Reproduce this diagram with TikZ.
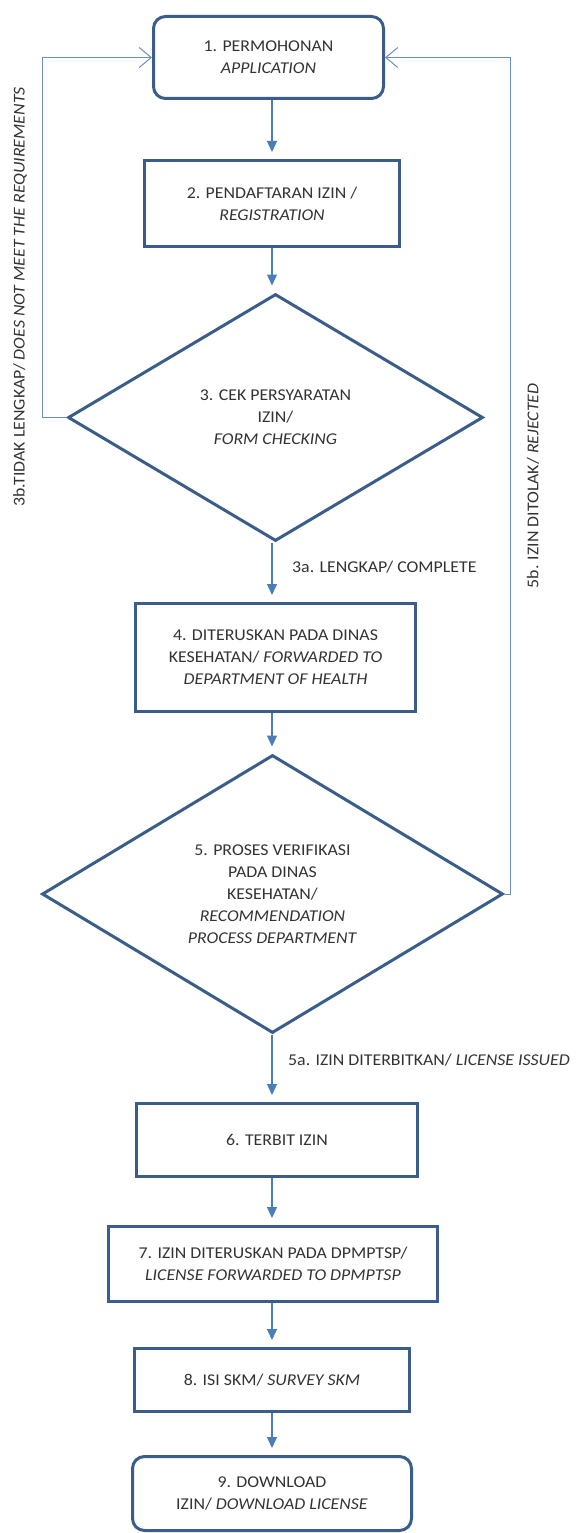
\documentclass[tikz,border=0pt]{standalone}
\usepackage{fontspec}
\setmainfont{Carlito}[FakeStretch=1.08]
\usetikzlibrary{shapes.geometric,arrows.meta}
\definecolor{boxblue}{HTML}{3A5D8A}
\definecolor{arrblue}{HTML}{4A7EBB}
\definecolor{fbblue}{HTML}{6B8FC0}
\definecolor{txt}{HTML}{333333}
\begin{document}
\begin{tikzpicture}[x=1pt,y=-1pt,
  every node/.style={font=\fontsize{16.5}{22}\selectfont, text=txt},
  procbox/.style={draw=boxblue, line width=3pt, align=center, inner sep=0pt},
  termbox/.style={procbox, rounded corners=12pt},
  decision/.style={draw=boxblue, line width=3pt, diamond, align=center, inner sep=0pt},
  flow/.style={draw=arrblue, line width=1.3pt, -{Triangle[width=10pt,length=11pt]}, shorten >=7pt},
  feedback/.style={draw=fbblue, line width=1pt, -{Straight Barb[length=12pt,width=20pt]}},
  lbl/.style={inner sep=0pt}
]
\useasboundingbox (0,0) rectangle (576,1533);
\fill[white] (0,0) rectangle (576,1533);
\coordinate (ax) at (272,0);

\node[termbox, minimum width=230, minimum height=82] (b1) at (268.5,57.5) {1. PERMOHONAN\\\textit{APPLICATION}};
\node[procbox, minimum width=255, minimum height=86] (b2) at (272,203.5) {2. PENDAFTARAN IZIN /\\\textit{REGISTRATION}};
\node[decision, minimum width=415, minimum height=247] (d3) at (275.5,417.5) {3. CEK PERSYARATAN\\IZIN/\\\textit{FORM CHECKING}};
\node[procbox, minimum width=280, minimum height=108] (b4) at (275.5,657.5) {4. DITERUSKAN PADA DINAS\\KESEHATAN/ \textit{FORWARDED TO}\\\textit{DEPARTMENT OF HEALTH}};
\node[decision, minimum width=461, minimum height=278] (d5) at (272.5,894) {5. PROSES VERIFIKASI\\PADA DINAS\\KESEHATAN/\\\textit{RECOMMENDATION}\\\textit{PROCESS DEPARTMENT}};
\node[procbox, minimum width=281, minimum height=73] (b6) at (277,1140) {6. TERBIT IZIN};
\node[procbox, minimum width=329, minimum height=75] (b7) at (273,1264) {7. IZIN DITERUSKAN PADA DPMPTSP/\\\textit{LICENSE FORWARDED TO DPMPTSP}};
\node[procbox, minimum width=275, minimum height=63] (b8) at (272,1380) {8. ISI SKM/ \textit{SURVEY SKM}};
\node[termbox, minimum width=279, minimum height=74] (b9) at (272,1493.5) {9. DOWNLOAD\\IZIN/ \textit{DOWNLOAD LICENSE}};

\draw[flow] (ax |- b1.south) -- (ax |- b2.north);
\draw[flow] (ax |- b2.south) -- (ax |- d3.north);
\draw[flow] (ax |- d3.south) -- (ax |- b4.north);
\draw[flow] (ax |- b4.south) -- (ax |- d5.north);
\draw[flow] (ax |- d5.south) -- (ax |- b6.north);
\draw[flow] (ax |- b6.south) -- (ax |- b7.north);
\draw[flow] (ax |- b7.south) -- (ax |- b8.north);
\draw[flow] (ax |- b8.south) -- (ax |- b9.north);

\draw[feedback] (d3.west) -- ++(-24,0) |- (b1.west);
\draw[feedback] (d5.east) -- ++(6,0) |- (b1.east);

\node[lbl, anchor=west] (l3a) at (292,567) {3a. LENGKAP/ COMPLETE};
\node[lbl, anchor=west] (l5a) at (288,1060) {5a. IZIN DITERBITKAN/ \textit{LICENSE ISSUED}};
\node[lbl, rotate=90] (l3b) at (20,297) {3b.TIDAK LENGKAP/ \textit{DOES NOT MEET THE REQUIREMENTS}};
\node[lbl, rotate=90] (l5b) at (533,486) {5b. IZIN DITOLAK/ \textit{REJECTED}};
\end{tikzpicture}
\end{document}
